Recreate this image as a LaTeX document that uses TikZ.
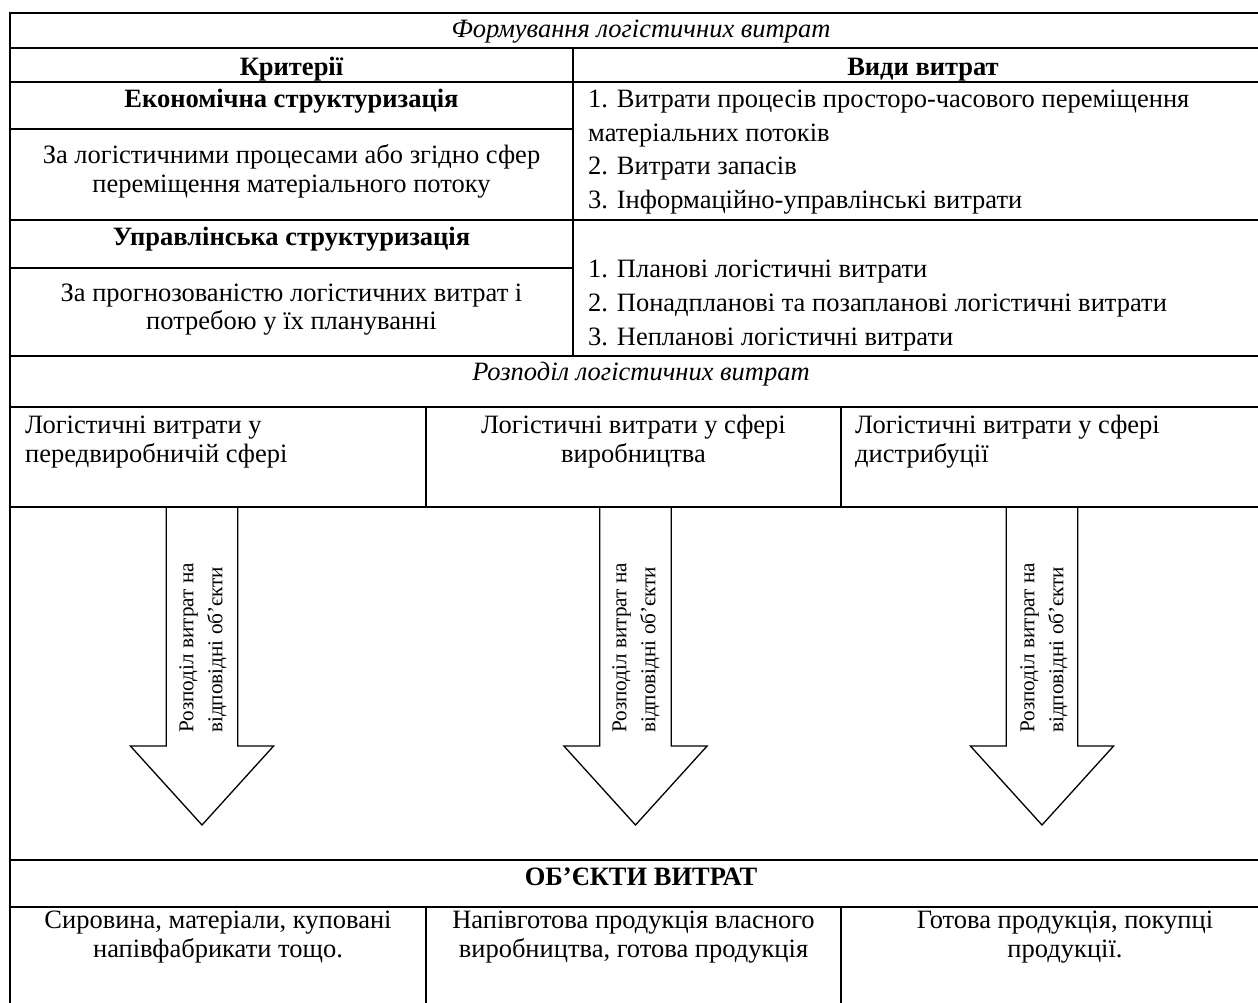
\documentclass[tikz,border=0pt]{standalone}
\usepackage{fontspec}
\setmainfont{Liberation Serif}
\newcommand\mainsz{\fontsize{26.5}{30}\selectfont}
\newcommand\arrsz{\fontsize{21.2}{29}\selectfont}
\begin{document}
\begin{tikzpicture}[x=1pt,y=-1pt,
  frame/.style={line width=2pt},
  divider/.style={line width=1.3pt},
  arrowshape/.style={line width=1.3pt, line join=miter},
  lbl/.style={inner sep=0pt, font=\mainsz},
  cl/.style={lbl, anchor=base},
  ll/.style={lbl, anchor=base west},
  arrlbl/.style={inner sep=0pt, font=\arrsz, rotate=90, anchor=west, align=left}]
\useasboundingbox (0,0) rectangle (1258,1003);

% arrows
\foreach \c in {202,635.5,1042} {
  \draw[arrowshape] (\c-35.8,506.7) -- (\c-35.8,746) -- (\c-71.6,746) -- (\c,825)
     -- (\c+71.6,746) -- (\c+35.8,746) -- (\c+35.8,506.7);
}

% table frame
\draw[frame] (1258,12.7) -- (10,12.7) -- (10,1003);
\foreach \y in {48.3,82.3,220,356,407.3,506.7,860,907.3}
  \draw[frame] (10,\y) -- (1258,\y);
\draw[frame] (10,129.3) -- (573,129.3);
\draw[frame] (10,268) -- (573,268);
\draw[frame] (573,48.3) -- (573,356);
\draw[divider] (426,407.3) -- (426,506.7);
\draw[divider] (841,407.3) -- (841,506.7);
\draw[divider] (426,907.3) -- (426,1003);
\draw[divider] (841,907.3) -- (841,1003);

% texts
\node[cl, font=\mainsz\itshape] (title) at (641,37.7) {Формування логістичних витрат};
\node[cl, font=\mainsz\bfseries] (crit) at (291.5,76) {Критерії};
\node[cl, font=\mainsz\bfseries] (kinds) at (923,76) {Види витрат};
\node[cl, font=\mainsz\bfseries] (econ) at (291.5,108) {Економічна структуризація};
\node[cl] (econA) at (291.5,164) {За логістичними процесами або згідно сфер};
\node[cl] (econB) at (291.5,193) {переміщення матеріального потоку};
\node[cl, font=\mainsz\bfseries] (mgmt) at (291.5,245) {Управлінська структуризація};
\node[cl] (mgmtA) at (291.5,301) {За прогнозованістю логістичних витрат і};
\node[cl] (mgmtB) at (291.5,329) {потребою у їх плануванні};

\node[ll] (k1) at (588,108) {1. Витрати процесів просторо-часового переміщення};
\node[ll] (k1b) at (588,142) {матеріальних потоків};
\node[ll] (k2) at (588,175) {2. Витрати запасів};
\node[ll] (k3) at (588,208) {3. Інформаційно-управлінські витрати};
\node[ll] (p1) at (588,277) {1. Планові логістичні витрати};
\node[ll] (p2) at (588,311) {2. Понадпланові та позапланові логістичні витрати};
\node[ll] (p3) at (588,345) {3. Непланові логістичні витрати};

\node[cl, font=\mainsz\itshape] (dist) at (641,380) {Розподіл логістичних витрат};
\node[ll] (d1a) at (25,433) {Логістичні витрати у};
\node[ll] (d1b) at (25,462) {передвиробничій сфері};
\node[cl] (d2a) at (633.5,433) {Логістичні витрати у сфері};
\node[cl] (d2b) at (633.5,462) {виробництва};
\node[ll] (d3a) at (855,433) {Логістичні витрати у сфері};
\node[ll] (d3b) at (855,462) {дистрибуції};

\node[arrlbl] (a1) at (203,733) {Розподіл витрат на\\відповідні об’єкти};
\node[arrlbl] (a2) at (636,733) {Розподіл витрат на\\відповідні об’єкти};
\node[arrlbl] (a3) at (1044,733) {Розподіл витрат на\\відповідні об’єкти};

\node[cl, font=\mainsz\bfseries] (obj) at (641,885) {ОБ’ЄКТИ ВИТРАТ};
\node[cl] (o1a) at (218,928) {Сировина, матеріали, куповані};
\node[cl] (o1b) at (218,957) {напівфабрикати тощо.};
\node[cl] (o2a) at (633.5,928) {Напівготова продукція власного};
\node[cl] (o2b) at (633.5,957) {виробництва, готова продукція};
\node[cl] (o3a) at (1065,928) {Готова продукція, покупці};
\node[cl] (o3b) at (1065,957) {продукції.};
\end{tikzpicture}
\end{document}
